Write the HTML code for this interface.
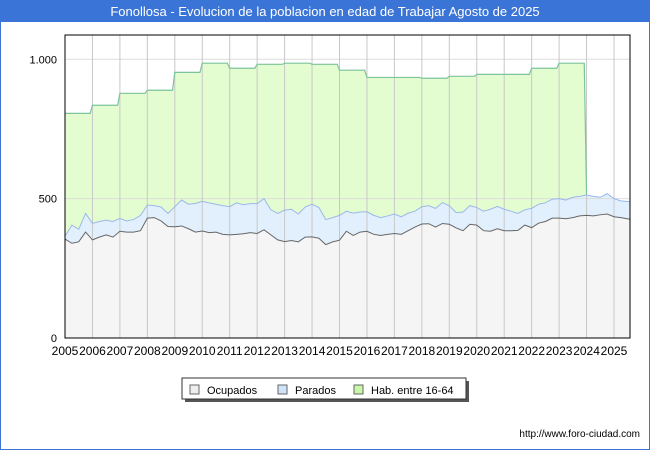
<!DOCTYPE html>
<html><head><meta charset="utf-8"><style>
body{margin:0;width:650px;height:450px;overflow:hidden;background:#fff;font-family:"Liberation Sans",sans-serif}
</style></head><body>
<svg width="650" height="450" xmlns="http://www.w3.org/2000/svg">
<rect x="0" y="0" width="650" height="450" fill="#fff" stroke="#3a74d6" stroke-width="2"/>
<rect x="0" y="0" width="650" height="22" fill="#3a74d6"/>
<text x="325" y="16" text-anchor="middle" fill="#fff" font-size="13">Fonollosa - Evolucion de la poblacion en edad de Trabajar Agosto de 2025</text>
<g id="plot"></g>
<g>
<rect x="185" y="381" width="284" height="21" fill="#555"/>
<rect x="182" y="378" width="284" height="21" fill="#fff" stroke="#333"/>
<rect x="190" y="385" width="9" height="9" fill="#eee" stroke="#666"/>
<text x="207" y="394" font-size="11">Ocupados</text>
<rect x="278" y="385" width="9" height="9" fill="#cfe4fa" stroke="#666"/>
<text x="295" y="394" font-size="11">Parados</text>
<rect x="354" y="385" width="9" height="9" fill="#c8f7a8" stroke="#666"/>
<text x="371" y="394" font-size="11">Hab. entre 16-64</text>
</g>
<text x="640" y="437" text-anchor="end" font-size="10">http://www.foro-ciudad.com</text>
</svg>
<script>
const times=[2005,2005.25,2005.5,2005.75,2006,2006.25,2006.5,2006.75,2007,2007.25,2007.5,2007.75,2008,2008.25,2008.5,2008.75,2009,2009.25,2009.5,2009.75,2010,2010.25,2010.5,2010.75,2011,2011.25,2011.5,2011.75,2012,2012.25,2012.5,2012.75,2013,2013.25,2013.5,2013.75,2014,2014.25,2014.5,2014.75,2015,2015.25,2015.5,2015.75,2016,2016.25,2016.5,2016.75,2017,2017.25,2017.5,2017.75,2018,2018.25,2018.5,2018.75,2019,2019.25,2019.5,2019.75,2020,2020.25,2020.5,2020.75,2021,2021.25,2021.5,2021.75,2022,2022.25,2022.5,2022.75,2023,2023.25,2023.5,2023.75,2024,2024.25,2024.5,2024.75,2025,2025.25,2025.58];
const ocupados=[355,340,345,380,352,362,370,362,383,380,380,385,430,432,420,400,399,402,392,380,384,378,380,372,370,372,374,378,375,388,370,352,346,350,345,362,363,358,335,345,351,383,368,380,383,372,368,372,375,372,385,398,409,410,398,411,408,395,385,408,405,385,383,392,385,385,386,405,396,412,418,430,430,428,432,438,440,438,442,445,435,432,426];
const parados=[10,65,45,67,59,56,53,56,46,40,45,55,47,43,50,47,72,93,88,103,106,107,100,103,101,113,104,104,107,112,90,95,113,112,100,108,117,110,90,87,89,72,80,72,70,68,64,66,70,63,63,57,62,65,67,75,67,55,67,67,63,70,79,80,77,70,61,55,69,68,67,68,70,67,73,70,73,70,63,73,65,60,63];
const habYears=[2005,2006,2007,2008,2009,2010,2011,2012,2013,2014,2015,2016,2017,2018,2019,2020,2021,2022,2023];
const habValues=[806,835,878,889,953,986,968,982,986,982,961,935,935,932,939,946,946,968,986];
const yTicks=[0,500,1000];
const yTickLabels=["0","500","1.000"];
const xYears=[2005,2006,2007,2008,2009,2010,2011,2012,2013,2014,2015,2016,2017,2018,2019,2020,2021,2022,2023,2024,2025];

const L=65,R=630,T=35,B=338;
const X=t=>L+(t-2005)*27.45;
const Y=v=>B-v*0.2787;
const NS="http://www.w3.org/2000/svg";
const g=document.getElementById('plot');
function mk(tag,attrs){const e=document.createElementNS(NS,tag);for(const k in attrs)e.setAttribute(k,attrs[k]);g.appendChild(e);return e;}
const bg=mk('rect',{x:L,y:T,width:R-L,height:B-T,fill:'#fff'});


const totals=ocupados.map((o,i)=>o+parados[i]);
let hp=[];
habYears.forEach((y,i)=>{hp.push([X(y),Y(habValues[i])]);hp.push([X(y+11/12),Y(habValues[i])]);});
const iEnd=times.indexOf(2024);
hp.push([X(2024),Y(totals[iEnd])]);
const habPts=hp.map(p=>p.join(',')).join(' ');
const habFill=mk('polygon',{points:habPts+` ${X(2024)},${B} ${X(2005)},${B}`,fill:'#e4fdd0'});


const totPts=times.map((t,i)=>X(t)+','+Y(totals[i])).join(' ');
const parFill=mk('polygon',{points:totPts+` ${X(times[times.length-1])},${B} ${X(2005)},${B}`,fill:'#e2f0fd'});


const ocPts=times.map((t,i)=>X(t)+','+Y(ocupados[i])).join(' ');
const ocFill=mk('polygon',{points:ocPts+` ${X(times[times.length-1])},${B} ${X(2005)},${B}`,fill:'#f5f5f5'});


yTicks.forEach((v,i)=>{
 const l=mk('line',{x1:L,x2:R,y1:Y(v),y2:Y(v),stroke:'#ddd'});
 
 
 const t=mk('text',{x:L-8,y:Y(v)+4,'text-anchor':'end','font-size':'11'});
 t.textContent=yTickLabels[i];
 
 
});
xYears.forEach(y=>{
 if(y>2005){const l=mk('line',{x1:X(y),x2:X(y),y1:T,y2:B,stroke:'#c8c8c8'});
 
 }
 const t=mk('text',{x:X(y),y:B+17,'text-anchor':'middle','font-size':'12'});
 t.textContent=y;
 
 
});
const hl=mk('polyline',{points:habPts,fill:'none',stroke:'#7cc49a','stroke-width':1.2});


const pl=mk('polyline',{points:totPts,fill:'none',stroke:'#9ab8ea','stroke-width':1});


const ol=mk('polyline',{points:ocPts,fill:'none',stroke:'#666','stroke-width':1});


const fr=mk('rect',{x:L,y:T,width:R-L,height:B-T,fill:'none',stroke:'#000'});


</script>
</body></html>
